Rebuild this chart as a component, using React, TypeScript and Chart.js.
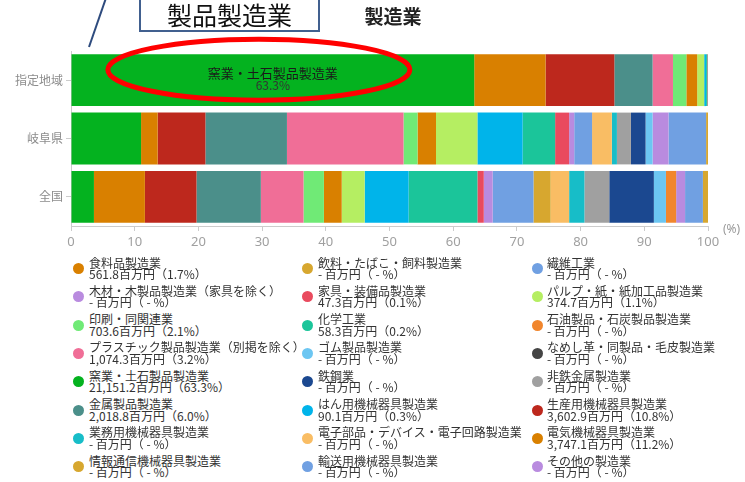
import { useEffect, useRef } from "react";
import { Chart, registerables } from "chart.js";

Chart.register(...registerables);

const categories = ["指定地域", "岐阜県", "全国"];

// stacking order (sorted by 指定地域 share)
const industries = [
  "窯業・土石製品製造業",
  "電気機械器具製造業",
  "生産用機械器具製造業",
  "金属製品製造業",
  "プラスチック製品製造業（別掲を除く）",
  "印刷・同関連業",
  "食料品製造業",
  "パルプ・紙・紙加工品製造業",
  "はん用機械器具製造業",
  "化学工業",
  "家具・装備品製造業",
  "木材・木製品製造業（家具を除く）",
  "繊維工業",
  "飲料・たばこ・飼料製造業",
  "電子部品・デバイス・電子回路製造業",
  "業務用機械器具製造業",
  "非鉄金属製造業",
  "鉄鋼業",
  "ゴム製品製造業",
  "石油製品・石炭製品製造業",
  "その他の製造業",
  "輸送用機械器具製造業",
  "情報通信機械器具製造業",
  "なめし革・同製品・毛皮製造業",
];

const colors = [
  "#04B21F", "#D98000", "#BD281D", "#4B8F8A", "#F06E97", "#70EA76",
  "#D98000", "#B5EE62", "#00B4EA", "#1BC59A", "#E94A5E", "#B98BDF",
  "#70A0E2", "#D7A72F", "#F9BD64", "#17BDC8", "#A0A0A0", "#1B4890",
  "#6CC6F2", "#F1862D", "#B98BDF", "#70A0E2", "#D7A72F", "#444444",
];

const regionShare = [63.3, 11.2, 10.8, 6.0, 3.2, 2.1, 1.7, 1.1, 0.3, 0.2, 0.1, 0, 0, 0, 0, 0, 0, 0, 0, 0, 0, 0, 0, 0];
const gifuShare = [11.0, 2.6, 7.5, 12.8, 18.3, 2.2, 2.9, 6.5, 7.1, 5.1, 2.2, 0.8, 2.8, 0, 3.1, 0.8, 2.2, 2.3, 1.1, 0, 2.5, 5.9, 0.3, 0];
const nationalShare = [3.6, 8.0, 8.1, 10.1, 6.7, 3.2, 2.8, 3.6, 6.9, 10.8, 1.0, 1.4, 6.4, 2.7, 2.9, 2.4, 3.9, 7.0, 1.9, 1.6, 1.4, 2.8, 0.8, 0];
const regionAmount: (number | null)[] = [
  21151.2, 3747.1, 3602.9, 2018.8, 1074.3, 703.6, 561.8, 374.7, 90.1, 58.3, 47.3,
  null, null, null, null, null, null, null, null, null, null, null, null, null,
];

// legend order (standard industry classification order)
const legendOrder = [
  "食料品製造業", "飲料・たばこ・飼料製造業", "繊維工業",
  "木材・木製品製造業（家具を除く）", "家具・装備品製造業", "パルプ・紙・紙加工品製造業",
  "印刷・同関連業", "化学工業", "石油製品・石炭製品製造業",
  "プラスチック製品製造業（別掲を除く）", "ゴム製品製造業", "なめし革・同製品・毛皮製造業",
  "窯業・土石製品製造業", "鉄鋼業", "非鉄金属製造業",
  "金属製品製造業", "はん用機械器具製造業", "生産用機械器具製造業",
  "業務用機械器具製造業", "電子部品・デバイス・電子回路製造業", "電気機械器具製造業",
  "情報通信機械器具製造業", "輸送用機械器具製造業", "その他の製造業",
];

const chartTitle = "製造業";
const calloutText = "製品製造業";
const unitLabel = "(%)";

const CJK = "'Noto Sans CJK JP', 'Noto Sans', sans-serif";

function amountLine(i: number) {
  const a = regionAmount[i];
  if (a === null) return "- 百万円（ - %）";
  const s = a.toLocaleString("en-US", { minimumFractionDigits: 1, maximumFractionDigits: 1 });
  return `${s}百万円（${regionShare[i].toFixed(1)}%）`;
}

const overlayPlugin = {
  id: "overlay",
  afterDatasetsDraw(chart: any) {
    const ctx = chart.ctx as CanvasRenderingContext2D;
    const bar = chart.getDatasetMeta(0).data[0] as any;
    const cx = (bar.x + bar.base) / 2;
    const cy = bar.y;
    ctx.save();
    ctx.fillStyle = "#1a1a1a";
    ctx.font = `13px ${CJK}`;
    ctx.textAlign = "center";
    ctx.textBaseline = "middle";
    ctx.fillText(industries[0], cx, cy - 7);
    ctx.fillStyle = "#333";
    ctx.font = `12px ${CJK}`;
    ctx.fillText(regionShare[0].toFixed(1) + "%", cx, cy + 5);
    // red ellipse
    ctx.strokeStyle = "#FF0000";
    ctx.lineWidth = 5;
    ctx.beginPath();
    ctx.ellipse(cx - 14, cy - 10.5, 151, 30.5, 0, 0, Math.PI * 2);
    ctx.stroke();
    ctx.restore();
  },
  afterDraw(chart: any) {
    const ctx = chart.ctx as CanvasRenderingContext2D;
    const area = chart.chartArea;
    ctx.save();
    // unit label
    ctx.fillStyle = "#999";
    ctx.font = "12px 'Noto Sans', sans-serif";
    ctx.textAlign = "left";
    ctx.textBaseline = "middle";
    ctx.fillText(unitLabel, area.right + 15, area.bottom + 4);
    // title
    ctx.fillStyle = "#222";
    ctx.font = `bold 19px ${CJK}`;
    ctx.textAlign = "center";
    ctx.fillText(chartTitle, 393, 17);
    // callout line
    ctx.strokeStyle = "#2E4B7E";
    ctx.lineWidth = 2;
    ctx.beginPath();
    ctx.moveTo(89, 47);
    ctx.lineTo(106, -2);
    ctx.stroke();
    // callout box
    ctx.strokeStyle = "#41608F";
    ctx.fillStyle = "#fff";
    ctx.fillRect(140, -5, 179, 36);
    ctx.strokeRect(140, -5, 179, 36);
    ctx.fillStyle = "#111";
    ctx.font = `25px ${CJK}`;
    ctx.fillText(calloutText, 229.5, 15);
    ctx.restore();
  },
};

export default function App() {
  const ref = useRef<HTMLCanvasElement>(null);

  useEffect(() => {
    if (!ref.current) return;
    const chart = new Chart(ref.current, {
      type: "bar",
      data: {
        labels: categories,
        datasets: industries.map((name, i) => ({
          label: name,
          data: [regionShare[i], gifuShare[i], nationalShare[i]],
          backgroundColor: colors[i],
          borderWidth: 0,
          barPercentage: 0.888,
          categoryPercentage: 1,
        })),
      },
      options: {
        indexAxis: "y",
        responsive: false,
        animation: false,
        devicePixelRatio: 1,
        layout: { padding: { top: 51, right: 37, left: 0, bottom: 0 } },
        plugins: {
          legend: { display: false },
          tooltip: { enabled: false },
          title: { display: false },
        },
        scales: {
          x: {
            stacked: true,
            min: 0,
            max: 100,
            ticks: {
              stepSize: 10,
              color: "#a0a0a0",
              font: { size: 13, family: "'Noto Sans', sans-serif" },
              padding: 3,
              maxRotation: 0,
              autoSkip: false,
            },
            grid: { drawOnChartArea: false, drawTicks: true, tickLength: 5, color: "#ccc" },
            border: { color: "#ccc" },
            afterFit: (s: any) => {
              s.height = 34;
            },
          },
          y: {
            stacked: true,
            ticks: {
              color: "#8c8c8c",
              font: { size: 12, family: CJK },
              padding: 3,
            },
            grid: { offset: false, drawOnChartArea: false, drawTicks: true, tickLength: 5, color: "#ccc" },
            border: { color: "#ccc" },
            afterFit: (s: any) => {
              s.width = 71;
            },
          },
        },
      },
      plugins: [overlayPlugin],
    } as any);
    return () => chart.destroy();
  }, []);

  const colX = [78, 307, 537];
  const textX = [89, 318, 547];

  const items = legendOrder.map((name, k) => {
    const i = industries.indexOf(name);
    const col = k % 3;
    const row = Math.floor(k / 3);
    const top = 256.5 + 28.3 * row;
    return { name, i, col, row, top };
  });

  return (
    <div
      style={{
        position: "absolute",
        left: 0,
        top: 0,
        width: 745,
        height: 482,
        background: "#fff",
        overflow: "hidden",
        fontFamily: CJK,
      }}
    >
      <canvas
        ref={ref}
        width={745}
        height={260}
        style={{ position: "absolute", left: 0, top: 0, width: 745, height: 260 }}
      />
      {items.map((it) => (
        <div
          key={"t" + it.name}
          style={{
            position: "absolute",
            left: textX[it.col],
            top: it.top,
            fontSize: 12,
            lineHeight: "11.5px",
            color: "#333",
            whiteSpace: "nowrap",
          }}
        >
          {it.name}
          <br />
          {amountLine(it.i)}
        </div>
      ))}
      {items.map((it) => (
        <div
          key={"c" + it.name}
          style={{
            position: "absolute",
            left: colX[it.col] - 5.5,
            top: it.top + 6.5,
            width: 11,
            height: 11,
            borderRadius: "50%",
            background: colors[it.i],
          }}
        />
      ))}
    </div>
  );
}
